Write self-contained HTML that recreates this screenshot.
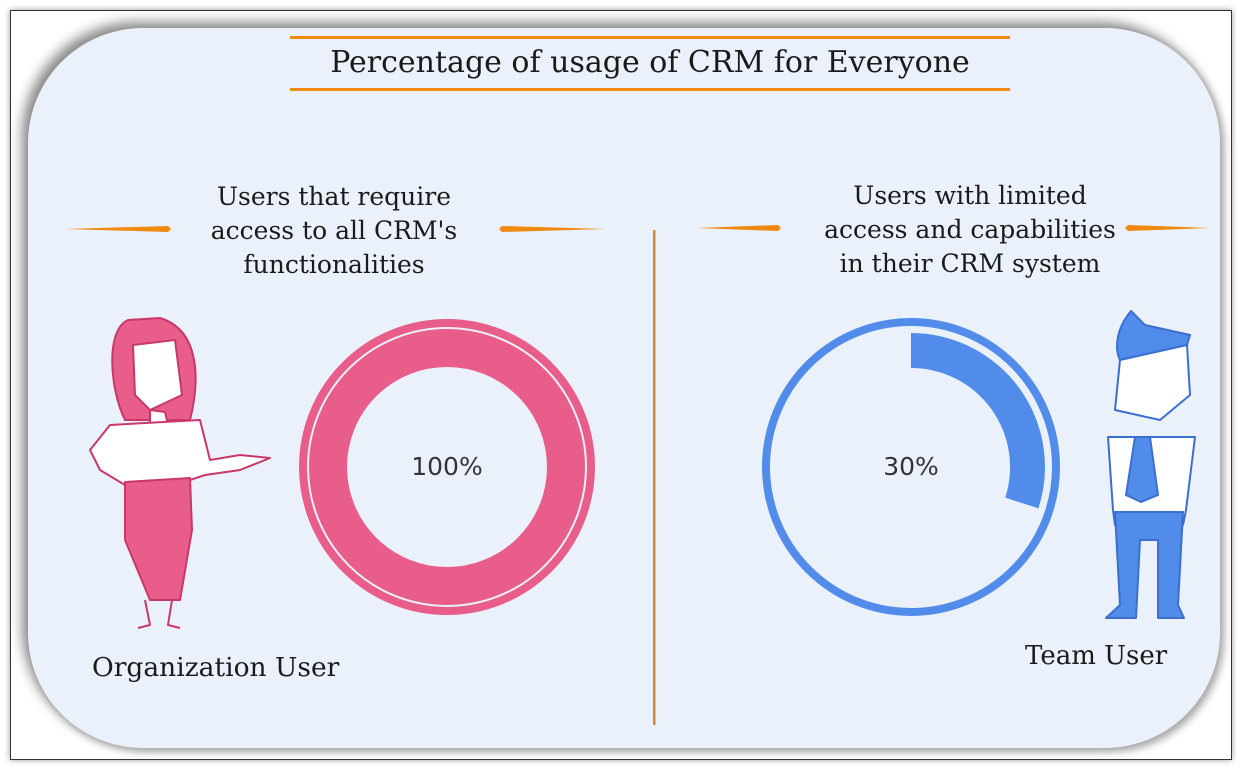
<!DOCTYPE html>
<html><head><meta charset="utf-8"><style>
html,body{margin:0;padding:0;background:#fff;}
body{width:1242px;height:770px;position:relative;overflow:hidden;font-family:"DejaVu Serif","Liberation Serif",serif;color:#1a1a1a;}
.frame{position:absolute;left:10px;top:10px;width:1220px;height:748px;border:1px solid #333;box-shadow:0 0 6px #999;background:#fff;}
.card{position:absolute;left:28px;top:28px;width:1192px;height:720px;border-radius:115px;background:#eaf1fb;box-shadow:-6px -6px 12px #888, 4px 4px 8px #aaa;}
.t{position:absolute;text-align:center;white-space:nowrap;}
</style></head><body>
<div class="frame"></div>
<div class="card"></div>
<svg width="1242" height="770" style="position:absolute;left:0;top:0">
<rect x="290" y="36" width="720" height="3" fill="#f0890f"/>
<rect x="290" y="88" width="720" height="3" fill="#f0890f"/>
<rect x="653" y="230" width="2.5" height="495" fill="#c98a3a"/>
<polygon points="65,229 168,226 171,229 168,232" fill="#f0890f"/>
<polygon points="605,229 502,226 499,229 502,232" fill="#f0890f"/>
<polygon points="697,228 778,225 781,228 778,231" fill="#f0890f"/>
<polygon points="1210,228 1128,225 1125,228 1128,231" fill="#f0890f"/>
<circle cx="447" cy="467" r="144" fill="none" stroke="#e85d8a" stroke-width="8"/>
<circle cx="447" cy="467" r="119" fill="none" stroke="#e85d8a" stroke-width="38"/>
<circle cx="911" cy="467" r="145" fill="none" stroke="#528ceb" stroke-width="8"/>
<path d="M911,333 A134,134 0 0 1 1038.4,508.4 L1005.2,497.6 A99,99 0 0 0 911,368 Z" fill="#528ceb"/>
<g stroke="#c8386a" stroke-width="2" stroke-linejoin="round">
<path d="M128,320 C105,330 110,390 125,420 L190,420 C200,380 200,330 160,318 Z" fill="#e85d8a"/>
<path d="M133,345 L175,340 L182,395 L150,410 L135,395 Z" fill="#fff"/>
<path d="M150,410 L165,412 L168,425 L150,425 Z" fill="#fff"/>
<path d="M110,425 L200,420 L210,460 L240,455 L270,458 L240,470 L205,475 L190,480 L125,485 L100,470 L90,450 Z" fill="#fff"/>
<path d="M125,482 L190,478 L192,530 L180,600 L150,600 L125,540 Z" fill="#e85d8a"/>
<path d="M145,600 L150,625 L138,628 M172,600 L168,625 L180,628" fill="none"/>
</g>
<g stroke="#3a6fd0" stroke-width="2" stroke-linejoin="round">
<path d="M1131,311 C1115,330 1115,350 1120,360 L1187,345 L1190,335 L1145,325 Z" fill="#528ceb"/>
<path d="M1120,360 L1187,345 L1190,395 L1160,420 L1115,410 Z" fill="#fff"/>
<path d="M1108,437 L1195,437 L1186,510 L1183,525 L1115,525 L1113,510 Z" fill="#fff"/>
<path d="M1135,437 L1150,437 L1158,495 L1141,502 L1126,495 Z" fill="#528ceb"/>
<path d="M1115,512 L1183,512 L1178,605 L1184,618 L1158,618 L1158,540 L1140,540 L1136,618 L1106,618 L1120,605 Z" fill="#528ceb"/>
</g>
</svg>
<div class="t" style="left:290px;width:720px;top:45px;font-size:30px;">Percentage of usage of CRM for Everyone</div>
<div class="t" style="left:134px;width:400px;top:180px;font-size:25px;line-height:34px;">Users that require<br>access to all CRM's<br>functionalities</div>
<div class="t" style="left:770px;width:400px;top:179px;font-size:25px;line-height:34px;">Users with limited<br>access and capabilities<br>in their CRM system</div>
<div class="t" style="left:347px;width:200px;top:452px;font-size:25px;font-family:'DejaVu Sans',sans-serif;color:#333;">100%</div>
<div class="t" style="left:811px;width:200px;top:452px;font-size:25px;font-family:'DejaVu Sans',sans-serif;color:#333;">30%</div>
<div class="t" style="left:92px;top:652px;font-size:26.5px;">Organization User</div>
<div class="t" style="left:1025px;top:641px;font-size:26px;">Team User</div>
</body></html>
